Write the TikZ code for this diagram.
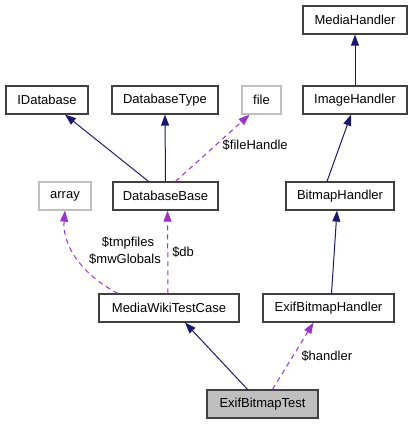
\documentclass[tikz,border=0pt]{standalone}
\usepackage{fontspec}
\setmainfont{Liberation Sans}
\usetikzlibrary{arrows.meta}
\definecolor{edgeblue}{HTML}{191970}
\definecolor{edgepurple}{HTML}{9A32CD}
\definecolor{boxline}{HTML}{404040}
\definecolor{greyline}{HTML}{BFBFBF}
\begin{document}
\begin{tikzpicture}[x=1bp,y=-1bp,
  every node/.style={font=\fontsize{13bp}{16bp}\selectfont},
  cls/.style={draw=boxline,line width=1.2bp,fill=white,inner sep=0pt,minimum height=28bp},
  ext/.style={draw=greyline,line width=1.2bp,fill=white,inner sep=0pt,minimum height=28bp},
  inh/.style={edgeblue,line width=1bp,-{Triangle[length=11bp,width=8bp]}},
  use/.style={edgepurple,line width=1bp,dashed,dash pattern=on 5bp off 4bp,-{Triangle[length=11bp,width=8bp]}},
  lbl/.style={inner sep=0pt,text=black}
]
\useasboundingbox (0,0) rectangle (411,424);
\node[cls,minimum width=104bp] (mh) at (355,20) {MediaHandler};
\node[cls,minimum width=104bp] (ih) at (355,100) {ImageHandler};
\node[ext,minimum width=39bp] (file) at (261.5,100) {file};
\node[cls,minimum width=82bp] (idb) at (47,100) {IDatabase};
\node[cls,minimum width=106bp] (dbt) at (165,100) {DatabaseType};
\node[ext,minimum width=52bp] (arr) at (65,196) {array};
\node[cls,minimum width=105bp] (dbb) at (165.5,196) {DatabaseBase};
\node[cls,minimum width=108bp] (bh) at (340,196) {BitmapHandler};
\node[cls,minimum width=140bp] (mwtc) at (169,308) {MediaWikiTestCase};
\node[cls,minimum width=131bp] (ebh) at (328.5,308) {ExifBitmapHandler};
\node[cls,fill=greyline,minimum width=111bp] (ebt) at (262.5,404) {ExifBitmapTest};

\draw[inh] (ih.north) -- (mh.south);
\draw[inh] ([xshift=-13bp]bh.north) -- ([xshift=-4bp]ih.south);
\draw[inh] ([xshift=3bp]ebh.north) -- ([xshift=-3bp]bh.south);
\draw[inh] ([xshift=-17bp]dbb.north) -- ([xshift=18bp]idb.south);
\draw[inh] ([xshift=0bp]dbb.north) -- ([xshift=0bp]dbt.south);
\draw[use] ([xshift=10bp]dbb.north) -- ([xshift=-12bp]file.south) node[lbl,pos=0.55,right=6bp] {\$fileHandle};
\draw[use] ([xshift=-1bp]mwtc.north) -- ([xshift=2bp]dbb.south) node[lbl,pos=0.5,right=4bp] {\$db};
\draw[use] ([xshift=-51bp]mwtc.north) .. controls (82,275) and (62,245) .. ([xshift=0bp]arr.south);
\node[lbl] (l1) at (128,243) {\$tmpfiles};
\node[lbl] (l2) at (125,259) {\$mwGlobals};
\draw[inh] ([xshift=-15bp]ebt.north) -- ([xshift=16bp]mwtc.south);
\draw[use] ([xshift=10bp]ebt.north) -- ([xshift=-15bp]ebh.south) node[lbl,pos=0.5,right=8bp] {\$handler};
\end{tikzpicture}
\end{document}
